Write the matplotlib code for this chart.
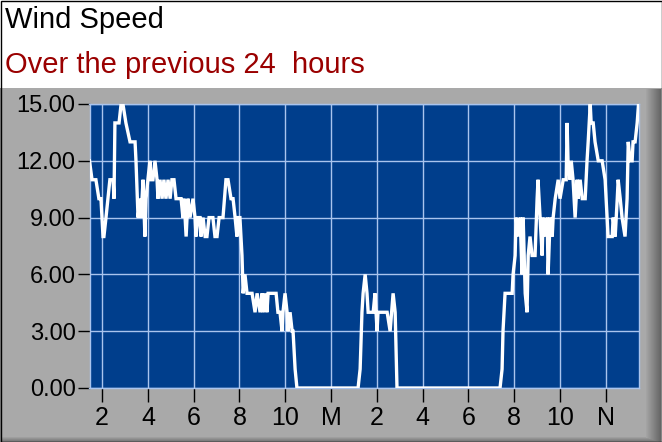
import matplotlib
matplotlib.use("Agg")
import matplotlib.pyplot as plt
import numpy as np
from matplotlib.patches import Rectangle

# ---- data: hours (M = 24, N = 36) and wind speed ----
hours = [
    13.45, 13.56, 13.73, 13.86, 13.95, 14.04, 14.08, 14.17, 14.34, 14.48,
    14.52, 14.56, 14.74, 14.83, 14.91, 15.04, 15.22, 15.44, 15.48, 15.57,
    15.66, 15.70, 15.79, 15.87, 15.92, 16.00, 16.09, 16.14, 16.22, 16.31,
    16.40, 16.44, 16.53, 16.62, 16.70, 16.79, 16.88, 16.97, 17.05, 17.14,
    17.23, 17.32, 17.40, 17.45, 17.53, 17.58, 17.67, 17.75, 17.84, 17.97,
    18.06, 18.10, 18.19, 18.28, 18.32, 18.41, 18.50, 18.58, 18.67, 18.84,
    18.93, 19.02, 19.11, 19.28, 19.41, 19.50, 19.63, 19.72, 19.81, 19.89,
    19.94, 20.02, 20.11, 20.16, 20.24, 20.33, 20.55, 20.68, 20.77, 20.90,
    20.99, 21.03, 21.12, 21.20, 21.25, 21.47, 21.60, 21.68, 21.77, 21.86,
    21.90, 21.99, 22.08, 22.12, 22.21, 22.30, 22.34, 22.43, 22.51,
    25.18, 25.27, 25.35, 25.40, 25.49, 25.57, 25.62, 25.84, 25.92, 26.01,
    26.05, 26.45, 26.58, 26.71, 26.80, 26.88,
    31.38, 31.47, 31.51, 31.60, 31.91, 31.95, 32.04, 32.08, 32.17, 32.26,
    32.34, 32.39, 32.48, 32.56, 32.61, 32.69, 32.78, 32.91, 33.00, 33.04,
    33.13, 33.22, 33.26, 33.35, 33.44, 33.48, 33.57, 33.66, 33.70, 33.79,
    33.92, 34.00, 34.14, 34.27, 34.31, 34.35, 34.44, 34.49, 34.57, 34.66,
    34.75, 34.79, 34.88, 34.97, 35.10, 35.18, 35.23, 35.32, 35.36, 35.45,
    35.53, 35.67, 35.84, 35.97, 36.10, 36.19, 36.28, 36.32, 36.41, 36.50,
    36.54, 36.63, 36.71, 36.84, 36.93, 36.98, 37.06, 37.15, 37.19, 37.28,
    37.37, 37.43,
]
speed = [
    12, 11, 11, 10, 10, 8, 8, 9, 11, 11,
    10, 14, 14, 15, 15, 14, 13, 13, 12, 9,
    10, 9, 11, 8, 10, 11, 12, 11, 11, 12,
    11, 10, 11, 10, 11, 10, 11, 10, 11, 11,
    10, 10, 10, 10, 9, 10, 8, 10, 9, 10,
    9, 8, 9, 9, 8, 9, 8, 8, 9, 9,
    8, 8, 9, 9, 11, 11, 10, 10, 9, 8,
    9, 9, 7, 5, 6, 5, 5, 4, 5, 4,
    5, 4, 5, 4, 5, 5, 5, 4, 4, 3,
    4, 5, 4, 3, 4, 3, 3, 1, 0,
    0, 1, 4, 5, 6, 5, 4, 4, 5, 3,
    4, 4, 3, 5, 4, 0,
    0, 1, 3, 5, 5, 6, 7, 9, 8, 9,
    6, 9, 5, 4, 7, 8, 7, 7, 10, 11,
    9, 7, 9, 8, 9, 6, 9, 8, 9, 10,
    11, 10, 11, 11, 14, 12, 11, 12, 11, 9,
    11, 10, 11, 10, 10, 12, 13, 15, 14, 14,
    13, 12, 12, 11, 8, 8, 8, 9, 8, 10,
    11, 10, 9, 8, 10, 13, 12, 12, 13, 13,
    14, 15,
]
tick_hours = [14, 16, 18, 20, 22, 24, 26, 28, 30, 32, 34, 36]
tick_labels = ["2", "4", "6", "8", "10", "M", "2", "4", "6", "8", "10", "N"]
y_ticks = [0, 3, 6, 9, 12, 15]
title = "Wind Speed"
subtitle = "Over the previous 24  hours"

W, H = 662, 442
fig = plt.figure(figsize=(W / 100, H / 100), dpi=100)
fig.patch.set_facecolor("white")

def fx(px):
    return px / W

def fy(py):
    return 1 - py / H

def frect(x, y, w, h, color, z=-10, **kw):
    r = Rectangle((x, y), w, h, transform=fig.transFigure, facecolor=color,
                  edgecolor="none", zorder=z, **kw)
    fig.add_artist(r)

# gray panel with bevel
frect(0, 0, 1, fy(88), "#a9a9a9")
for i, c in enumerate(np.linspace(0.64, 0.40, 15)):
    frect(fx(646 + i), 0, fx(1.05), fy(89), (c, c, c))
for i, c in enumerate(np.linspace(0.62, 0.45, 5)):
    frect(0, 1 - (437 + i + 1) / H, fx(646 + i * 3), 1.05 / H, (c, c, c))
frect(0, 0, fx(2), fy(88), "#8a8a8a")
fig.add_artist(Rectangle((0.5 / W, 0.5 / H), 1 - 1 / W, 1 - 1 / H,
                         transform=fig.transFigure, facecolor="none",
                         edgecolor="black", linewidth=1.0, zorder=10))

fig.text(fx(5), fy(28), title, fontsize=21, family="Liberation Sans",
         color="black", va="baseline", ha="left")
fig.text(fx(5), fy(73), subtitle, fontsize=21, family="Liberation Sans",
         color="#9a0000", va="baseline", ha="left")

ax = fig.add_axes([fx(89.5), fy(388), fx(639) - fx(89.5), fy(104) - fy(388)])
ax.set_zorder(2)
ax.set_facecolor("#003e8c")
ax.plot(hours, speed, color="white", linewidth=2.4, solid_joinstyle="miter", zorder=3)
ax.set_xlim(13.45, 37.45)
ax.set_ylim(0, 15)
ax.set_xticks(tick_hours)
ax.set_xticklabels(tick_labels)
ax.set_yticks(y_ticks)
ax.set_yticklabels([f"{v:.2f}" for v in y_ticks])
ax.grid(True, color="#a9c4ee", linewidth=1.0, zorder=1)
ax.set_axisbelow(True)
for s in ax.spines.values():
    s.set_color("#a9c4ee")
    s.set_linewidth(1.0)
ax.tick_params(axis="x", length=10, width=1, color="black", pad=3,
               labelsize=18, labelcolor="black")
ax.tick_params(axis="y", length=9, width=1, color="black", pad=1,
               labelsize=17, labelcolor="black")
for lab in ax.get_xticklabels() + ax.get_yticklabels():
    lab.set_family("Liberation Sans")

fig.savefig("out.png", dpi=100, facecolor=fig.get_facecolor())
